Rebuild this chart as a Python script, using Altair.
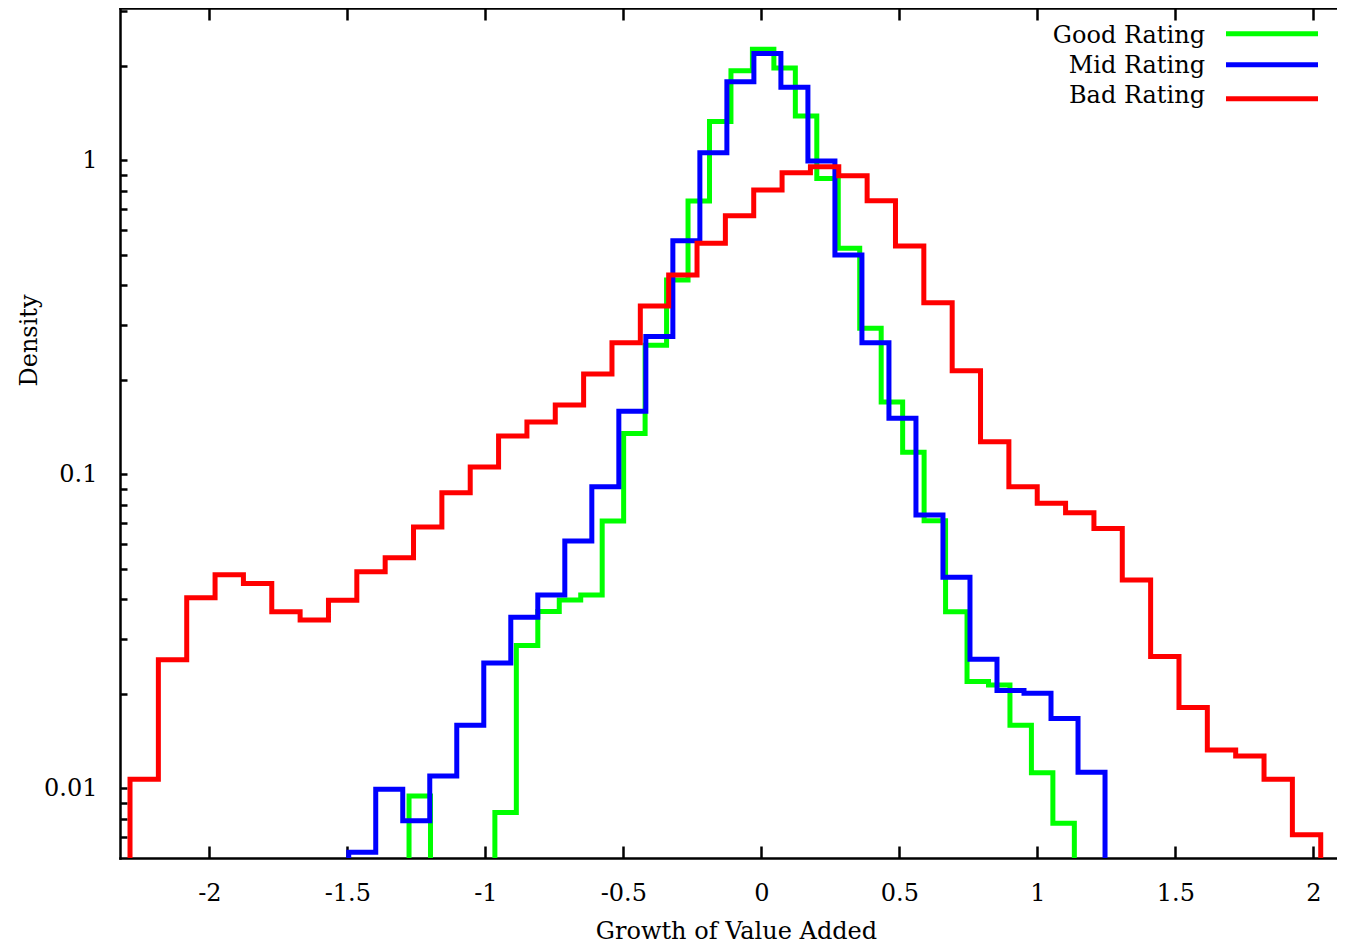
import altair as alt
import pandas as pd

# ---------------- data ----------------
series_names = ["Good Rating", "Mid Rating", "Bad Rating"]
series_colors = ["#00ff00", "#0000ff", "#ff0000"]

# histogram range (first left edge, last right edge) and bin densities
good_range = [-1.2764, 1.1341]
good_density = [0.00946, 0, 0, 0, 0.00837, 0.0285, 0.0366, 0.0398, 0.0413, 0.0711,
                0.135, 0.258, 0.416, 0.743, 1.33, 1.93, 2.26, 1.97, 1.385, 0.877,
                0.525, 0.292, 0.170, 0.1176, 0.0712, 0.0365, 0.0219, 0.02135, 0.0159,
                0.01122, 0.00774]

mid_range = [-1.4949, 1.2453]
mid_density = [0.00626, 0.00993, 0.00789, 0.01095, 0.0159, 0.0251, 0.0351, 0.0413,
               0.0614, 0.0914, 0.159, 0.275, 0.555, 1.058, 1.78, 2.19, 1.71, 0.996,
               0.50, 0.2626, 0.151, 0.0743, 0.047, 0.0258, 0.0205, 0.0201, 0.0167,
               0.01125]

bad_range = [-2.2873, 2.0268]
bad_density = [0.0107, 0.0257, 0.0405, 0.0479, 0.0449, 0.0365, 0.0344, 0.0397, 0.049,
               0.0543, 0.068, 0.0875, 0.1056, 0.1325, 0.147, 0.1664, 0.209, 0.2626,
               0.344, 0.4315, 0.5445, 0.667, 0.805, 0.914, 0.955, 0.894, 0.744, 0.534,
               0.352, 0.214, 0.127, 0.0914, 0.0809, 0.0755, 0.0673, 0.0461, 0.0263,
               0.0181, 0.01324, 0.01268, 0.0107, 0.00711]

x_ticks = [-2, -1.5, -1, -0.5, 0, 0.5, 1, 1.5, 2]
y_labels = [0.01, 0.1, 1]
y_ticks = [0.007, 0.008, 0.009, 0.01, 0.02, 0.03, 0.04, 0.05, 0.06, 0.07, 0.08, 0.09,
           0.1, 0.2, 0.3, 0.4, 0.5, 0.6, 0.7, 0.8, 0.9, 1, 2, 3]

x_domain = [-2.3236, 2.1401]
y_domain = [0.006, 3.06]

# ---------------- build table: bin centres, empty bin added at each end --------
rows = []
for name, rng, vals in zip(series_names,
                           [good_range, mid_range, bad_range],
                           [good_density, mid_density, bad_density]):
    n = len(vals)
    w = (rng[1] - rng[0]) / n
    padded = [0] + list(vals) + [0]
    for i, v in enumerate(padded):
        rows.append({
            "series": name,
            "x": rng[0] + (i - 0.5) * w,
            "density": v,
            # empty bins are drawn far below the visible range (clipped away)
            "plot_density": v if v > 0 else 1e-4,
            "order": i,
        })
df = pd.DataFrame(rows)

# ---------------- styling ----------------
FONT = "DejaVu Serif"
FS = 24
W, H = 1232, 850
LW = 2.5

xscale = alt.Scale(domain=x_domain, nice=False, zero=False)
yscale = alt.Scale(type="log", domain=y_domain, nice=False)

x_label_axis = alt.Axis(
    orient="bottom", values=x_ticks, ticks=False, grid=False,
    domain=True, domainColor="black", domainWidth=LW, domainCap="square",
    labelExpr="(datum.value < 0 ? '-' : '') + format(abs(datum.value), '~g')",
    labelPadding=23, labelFont=FONT, labelFontSize=FS, labelColor="black",
    title="Growth of Value Added", titleFont=FONT, titleFontSize=FS,
    titleFontWeight="normal", titleColor="black", titleBaseline="alphabetic",
    titleAlign="center", titleX=616, titleY=80,
)
y_label_axis = alt.Axis(
    orient="left", values=y_labels, format="~g", ticks=False, grid=False,
    domain=True, domainColor="black", domainWidth=LW, domainCap="square",
    labelPadding=23, labelFont=FONT, labelFontSize=FS, labelColor="black",
    title="Density", titleFont=FONT, titleFontSize=FS, titleFontWeight="normal",
    titleColor="black", titleAngle=270, titleAlign="center",
    titleBaseline="alphabetic", titleX=-84, titleY=332,
)


def tick_axis(orient, offset, values, size, domain=False):
    return alt.Axis(orient=orient, offset=offset, values=values, labels=False,
                    domain=domain, domainColor="black", domainWidth=LW,
                    domainCap="square", grid=False, ticks=True, tickSize=size,
                    tickWidth=LW, tickColor="black", title="")


# inward ticks: axis placed on the opposite edge with its ticks pointing in
x_ticks_bottom = tick_axis("top", -H, x_ticks, 12)
x_ticks_top = tick_axis("bottom", -H, x_ticks, 12, domain=True)
y_ticks_left = tick_axis("right", -W, y_ticks, 7)
y_ticks_right = tick_axis("left", -W, y_ticks, 7)


def line_layer(name, color, xaxis, yaxis):
    return alt.Chart(df).transform_filter(
        alt.datum.series == name
    ).mark_line(
        interpolate="step", clip=True, strokeWidth=5, color=color,
        strokeJoin="miter", strokeCap="butt",
    ).encode(
        x=alt.X("x:Q", scale=xscale, axis=xaxis),
        y=alt.Y("plot_density:Q", scale=yscale, axis=yaxis),
        order="order:Q",
    )


layers = [
    line_layer(series_names[0], series_colors[0], x_label_axis, y_label_axis),
    line_layer(series_names[1], series_colors[1], x_ticks_bottom, y_ticks_left),
    line_layer(series_names[2], series_colors[2], x_ticks_top, y_ticks_right),
]

# ---------------- legend (top right, text left of the line sample) ----------
legend_text_x = 1085
legend_text_y = [35.3, 65.3, 95.3]
legend_line_x = [1106, 1198]
legend_line_y = [25.8, 56.7, 90.8]
for i, (name, color) in enumerate(zip(series_names, series_colors)):
    entry = pd.DataFrame({"series": [name]})
    layers.append(
        alt.Chart(entry).mark_text(
            align="right", baseline="alphabetic", font=FONT, fontSize=FS,
            color="black",
        ).encode(
            x=alt.value(legend_text_x), y=alt.value(legend_text_y[i]),
            text="series:N",
        )
    )
    layers.append(
        alt.Chart(entry).mark_rule(color=color, strokeWidth=5).encode(
            x=alt.value(legend_line_x[0]), x2=alt.value(legend_line_x[1]),
            y=alt.value(legend_line_y[i]),
        )
    )

chart = alt.layer(*layers).resolve_axis(
    x="independent", y="independent"
).properties(
    width=W, height=H,
    padding={"left": 112, "top": 0, "right": -15, "bottom": 86},
    autosize=alt.AutoSizeParams(type="none"),
    background="white",
).configure_view(
    stroke="transparent", strokeWidth=0,
)

chart.save("out.html", embed_options={"renderer": "svg", "actions": False})
